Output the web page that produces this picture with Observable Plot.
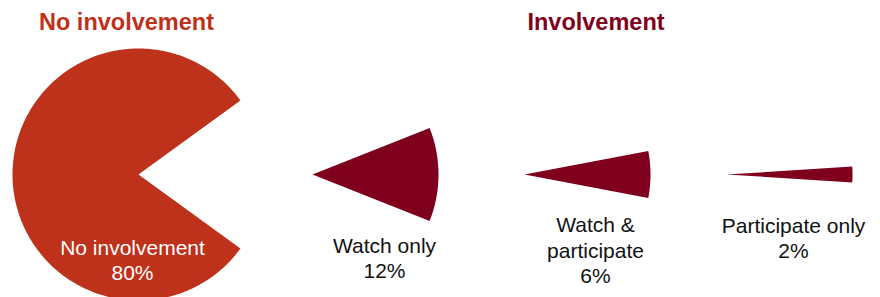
<!DOCTYPE html>
<html><head><meta charset="utf-8">
<script src="https://cdn.jsdelivr.net/npm/d3@7"></script>
<script src="https://cdn.jsdelivr.net/npm/@observablehq/plot@0.6"></script>
<style>body{margin:0;background:#fff}#chart svg{display:block}</style>
</head><body><div id="chart"></div>
<script>
// ---- data ----
const categories = ["No involvement", "Watch only", "Watch & participate", "Participate only"];
const values = [80, 12, 6, 2];
const groupOf = ["No involvement", "Involvement", "Involvement", "Involvement"];
const groups = ["No involvement", "Involvement"];
const wrappedLabels = ["No involvement", "Watch only", "Watch &\nparticipate", "Participate only"];

// ---- layout / style (not data) ----
const W = 880, H = 297;
const centersX = [138, 312, 524, 726];
const centerY = 174;
const R = 126;
const pointing = [180, 0, 0, 0]; // direction each slice faces (degrees)
const labelX = [132, 384, 595, 793];
const labelBaseline = [279.3, 277.7, 282.7, 257.7];
const titleX = [126, 595.5];
const titleBaseline = 29.3;
const groupColor = {"No involvement": "#be311a", "Involvement": "#7f001c"};
const FONT = "'Liberation Sans', Arial, Helvetica, sans-serif";

// wedge outlines computed from the values
const wedgePoints = [];
categories.forEach((cat, i) => {
  const span = values[i] / 100 * 360;
  const a0 = pointing[i] - span / 2, a1 = pointing[i] + span / 2;
  const steps = Math.max(4, Math.ceil(span));
  wedgePoints.push({cat, group: groupOf[i], x: centersX[i], y: centerY});
  for (let k = 0; k <= steps; k++) {
    const a = (a0 + (a1 - a0) * k / steps) * Math.PI / 180;
    wedgePoints.push({cat, group: groupOf[i], x: centersX[i] + R * Math.cos(a), y: centerY - R * Math.sin(a)});
  }
});

const labelData = categories.map((c, i) => ({
  cat: c, text: `${wrappedLabels[i]}\n${values[i]}%`, x: labelX[i], y: labelBaseline[i], inside: i === 0
}));

const chart = Plot.plot({
  width: W, height: H,
  margin: 0,
  x: {domain: [0, W], range: [0, W], axis: null},
  y: {domain: [0, H], range: [0, H], axis: null},
  style: {fontFamily: FONT, background: "#fff", overflow: "hidden"},
  marks: [
    ...groups.map(g => Plot.line(wedgePoints.filter(d => d.group === g), {
      x: "x", y: "y", z: "cat", curve: "linear-closed",
      fill: groupColor[g], stroke: "none"
    })),
    Plot.text(groups, {
      x: (d, i) => titleX[i], y: () => titleBaseline, text: d => d,
      fill: d => groupColor[d], fontWeight: "bold", fontSize: 23.5, lineAnchor: "bottom"
    }),
    Plot.text(labelData.filter(d => d.inside), {
      x: "x", y: "y", text: "text", fill: "#fff", fontSize: 21, lineHeight: 1.16, lineAnchor: "bottom"
    }),
    Plot.text(labelData.filter(d => !d.inside), {
      x: "x", y: "y", text: "text", fill: "#111", fontSize: 21, lineHeight: 1.21, lineAnchor: "bottom"
    })
  ]
});
document.getElementById("chart").append(chart);
</script>
</body></html>
